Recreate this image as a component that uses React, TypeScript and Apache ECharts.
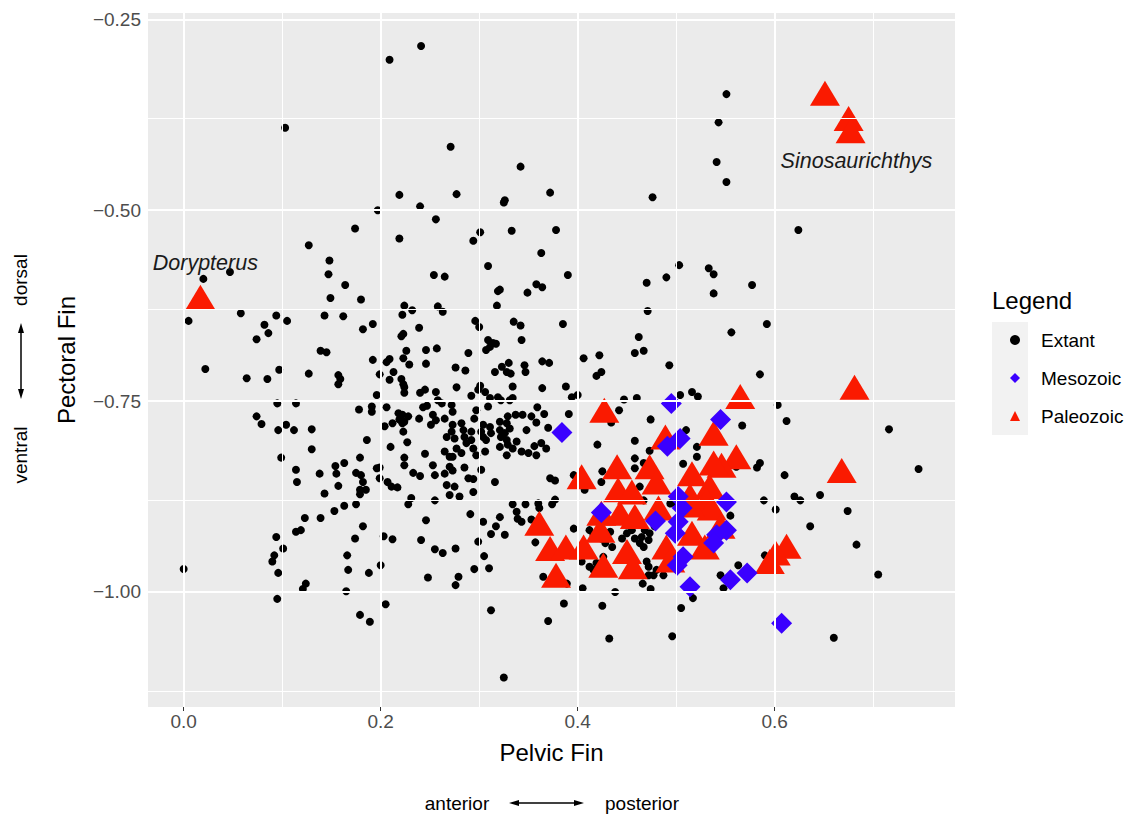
import React, { useEffect, useRef } from "react";
import * as echarts from "echarts";

// Extant species: [pelvic fin, pectoral fin]
const extantPoints: number[][] = [
  [0.103,-0.392],[0.127,-0.546],[0.047,-0.581],[0.020,-0.590],
  [0.241,-0.285],[0.209,-0.303],[0.271,-0.417],[0.342,-0.443],[0.219,-0.480],[0.277,-0.479],[0.326,-0.487],[0.325,-0.490],[0.372,-0.477],[0.197,-0.500],[0.240,-0.495],[0.256,-0.512],[0.174,-0.524],[0.219,-0.537],[0.301,-0.529],[0.294,-0.540],[0.333,-0.527],[0.378,-0.526],[0.363,-0.556],[0.148,-0.566],[0.147,-0.584],[0.164,-0.598],[0.309,-0.573],[0.254,-0.585],[0.265,-0.587],[0.319,-0.606],[0.321,-0.604],[0.349,-0.608],[0.358,-0.597],[0.364,-0.601],[0.390,-0.585],[0.149,-0.615],[0.180,-0.617],
  [0.551,-0.348],[0.543,-0.385],[0.541,-0.437],[0.551,-0.463],[0.476,-0.483],[0.624,-0.526],[0.470,-0.595],[0.490,-0.588],[0.503,-0.572],[0.533,-0.576],[0.538,-0.584],[0.538,-0.609],[0.577,-0.598],
  [0.005,-0.645],[0.058,-0.635],[0.094,-0.638],[0.105,-0.645],[0.082,-0.650],[0.086,-0.661],[0.074,-0.669],[0.022,-0.708],[0.064,-0.720],[0.085,-0.721],[0.097,-0.709],[0.095,-0.753],[0.114,-0.753],[0.074,-0.770],[0.079,-0.780],[0.096,-0.788],[0.104,-0.781],[0.112,-0.788],[0.099,-0.824],[0.114,-0.840],[0.115,-0.856],
  [0.094,-0.928],[0.114,-0.921],[0.101,-0.943],[0.092,-0.952],[0.090,-0.960],[0.096,-0.975],[0.000,-0.970],[0.095,-1.009],
  [0.143,-0.638],[0.162,-0.639],[0.182,-0.656],[0.192,-0.649],[0.224,-0.625],[0.222,-0.637],[0.232,-0.631],[0.239,-0.654],[0.221,-0.665],[0.223,-0.662],[0.139,-0.684],[0.145,-0.686],[0.192,-0.696],[0.226,-0.684],[0.246,-0.683],[0.206,-0.699],[0.209,-0.695],[0.223,-0.694],[0.229,-0.702],[0.213,-0.712],[0.199,-0.715],[0.127,-0.714],[0.157,-0.716],[0.159,-0.721],[0.157,-0.728],[0.209,-0.722],[0.221,-0.721],[0.223,-0.728],[0.224,-0.732],[0.224,-0.739],[0.240,-0.739],[0.245,-0.735],[0.246,-0.701],[0.196,-0.742],[0.178,-0.761],[0.191,-0.757],[0.191,-0.764],[0.206,-0.758],[0.218,-0.766],[0.222,-0.768],[0.219,-0.774],[0.224,-0.777],[0.228,-0.770],[0.222,-0.779],[0.212,-0.779],[0.204,-0.783],[0.239,-0.773],[0.243,-0.758],[0.247,-0.756],[0.130,-0.787],[0.223,-0.790],[0.186,-0.801],[0.210,-0.810],[0.227,-0.804],[0.130,-0.813],[0.179,-0.824],[0.224,-0.824],[0.245,-0.819],
  [0.258,-0.626],[0.263,-0.633],[0.318,-0.625],[0.296,-0.645],[0.300,-0.653],[0.335,-0.646],[0.342,-0.651],[0.385,-0.649],[0.309,-0.670],[0.314,-0.674],[0.307,-0.683],[0.317,-0.675],[0.311,-0.679],[0.343,-0.670],[0.257,-0.681],[0.289,-0.687],[0.276,-0.706],[0.286,-0.710],[0.323,-0.705],[0.330,-0.700],[0.332,-0.714],[0.328,-0.712],[0.316,-0.712],[0.346,-0.703],[0.347,-0.712],[0.364,-0.698],[0.371,-0.700],[0.277,-0.732],[0.301,-0.730],[0.299,-0.735],[0.306,-0.738],[0.334,-0.731],[0.364,-0.733],[0.388,-0.731],[0.256,-0.738],[0.258,-0.749],[0.262,-0.753],[0.292,-0.743],[0.311,-0.746],[0.309,-0.757],[0.319,-0.745],[0.322,-0.749],[0.331,-0.749],[0.334,-0.746],[0.253,-0.768],[0.251,-0.781],[0.256,-0.775],[0.272,-0.755],[0.273,-0.764],[0.297,-0.762],[0.295,-0.773],[0.265,-0.773],[0.359,-0.758],[0.366,-0.767],[0.358,-0.778],[0.370,-0.785],[0.337,-0.768],[0.344,-0.768],[0.353,-0.770],[0.329,-0.770],[0.321,-0.777],[0.328,-0.779],[0.331,-0.786],[0.273,-0.781],[0.272,-0.790],[0.275,-0.799],[0.282,-0.779],[0.284,-0.788],[0.285,-0.797],[0.292,-0.790],[0.292,-0.801],[0.287,-0.805],[0.304,-0.781],[0.311,-0.784],[0.302,-0.790],[0.312,-0.792],[0.304,-0.797],[0.307,-0.801],[0.321,-0.788],[0.326,-0.792],[0.322,-0.797],[0.328,-0.801],[0.348,-0.788],[0.267,-0.797],[0.265,-0.816],[0.277,-0.812],[0.282,-0.818],[0.294,-0.812],[0.297,-0.821],[0.306,-0.816],[0.321,-0.810],[0.329,-0.807],[0.338,-0.803],[0.334,-0.812],[0.328,-0.821],[0.343,-0.816],[0.356,-0.809],[0.363,-0.805],[0.368,-0.812],[0.358,-0.821],[0.350,-0.818],[0.273,-0.823],[0.270,-0.823],
  [0.138,-0.845],[0.154,-0.835],[0.155,-0.845],[0.163,-0.831],[0.175,-0.844],[0.180,-0.847],[0.182,-0.856],[0.196,-0.838],[0.199,-0.837],[0.199,-0.851],[0.224,-0.834],[0.233,-0.844],[0.240,-0.848],[0.207,-0.856],[0.211,-0.862],[0.217,-0.863],[0.157,-0.861],[0.143,-0.871],[0.179,-0.866],[0.185,-0.866],[0.179,-0.872],[0.175,-0.885],[0.163,-0.887],[0.153,-0.894],[0.231,-0.877],[0.228,-0.885],[0.123,-0.903],[0.139,-0.903],[0.246,-0.906],[0.119,-0.919],[0.182,-0.914],[0.174,-0.930],[0.203,-0.927],[0.212,-0.931],[0.241,-0.932],[0.166,-0.952],[0.167,-0.971],[0.188,-0.975],[0.200,-0.965],[0.248,-0.981],[0.124,-0.989],[0.121,-0.996],[0.165,-0.999],[0.205,-1.016],[0.179,-1.030],[0.189,-1.039],
  [0.253,-0.834],[0.255,-0.847],[0.265,-0.845],[0.270,-0.836],[0.273,-0.841],[0.285,-0.837],[0.289,-0.851],[0.294,-0.852],[0.302,-0.840],[0.267,-0.860],[0.275,-0.862],[0.270,-0.873],[0.280,-0.875],[0.294,-0.869],[0.316,-0.856],[0.255,-0.880],[0.372,-0.851],[0.377,-0.854],[0.334,-0.885],[0.338,-0.895],[0.339,-0.904],[0.343,-0.908],[0.347,-0.885],[0.360,-0.884],[0.361,-0.890],[0.374,-0.885],[0.377,-0.879],[0.353,-0.905],[0.291,-0.898],[0.304,-0.908],[0.321,-0.902],[0.317,-0.914],[0.312,-0.924],[0.326,-0.925],[0.299,-0.934],[0.357,-0.935],[0.255,-0.944],[0.263,-0.949],[0.276,-0.943],[0.305,-0.953],[0.295,-0.970],[0.310,-0.969],[0.279,-0.980],[0.276,-0.991],[0.365,-0.980],[0.312,-1.024],[0.386,-1.015],[0.370,-1.038],[0.325,-1.112],
  [0.471,-0.632],[0.462,-0.666],[0.458,-0.687],[0.467,-0.684],[0.406,-0.694],[0.422,-0.690],[0.493,-0.703],[0.419,-0.717],[0.424,-0.712],[0.394,-0.745],[0.400,-0.742],[0.447,-0.748],[0.460,-0.746],[0.504,-0.742],[0.516,-0.738],[0.522,-0.744],[0.442,-0.762],[0.391,-0.767],[0.474,-0.774],[0.434,-0.778],[0.510,-0.788],[0.420,-0.807],[0.458,-0.802],[0.473,-0.815],[0.458,-0.825],[0.458,-0.838],[0.467,-0.831],[0.507,-0.832],[0.425,-0.842],[0.424,-0.856],[0.396,-0.847],[0.407,-0.866],[0.521,-0.810],[0.521,-0.823],[0.494,-0.884],[0.463,-0.862],[0.467,-0.880],[0.396,-0.917],[0.412,-0.919],[0.416,-0.925],[0.424,-0.930],[0.433,-0.921],[0.435,-0.941],[0.428,-0.936],[0.445,-0.930],[0.450,-0.923],[0.455,-0.919],[0.458,-0.930],[0.465,-0.928],[0.463,-0.936],[0.468,-0.919],[0.472,-0.932],[0.473,-0.923],[0.467,-0.941],[0.478,-0.914],[0.470,-0.960],[0.472,-0.967],[0.426,-0.954],[0.419,-0.962],[0.412,-0.967],[0.416,-0.971],[0.404,-0.960],[0.472,-0.978],[0.477,-0.978],[0.487,-0.978],[0.480,-0.971],[0.466,-0.989],[0.474,-0.996],[0.438,-1.000],[0.405,-0.995],[0.389,-0.989],[0.425,-1.018],[0.505,-1.021],[0.517,-1.008],[0.432,-1.061],[0.496,-1.058],[0.500,-0.884],
  [0.556,-0.660],[0.592,-0.649],[0.585,-0.715],[0.603,-0.755],[0.612,-0.776],[0.567,-0.782],[0.716,-0.787],[0.585,-0.831],[0.582,-0.837],[0.561,-0.836],[0.610,-0.847],[0.746,-0.839],[0.589,-0.880],[0.601,-0.892],[0.620,-0.875],[0.626,-0.880],[0.646,-0.873],[0.674,-0.894],[0.555,-0.900],[0.636,-0.914],[0.683,-0.938],[0.590,-0.952],[0.563,-0.965],[0.545,-0.978],[0.548,-0.995],[0.705,-0.977],[0.660,-1.060],
];

// Mesozoic fossils
const mesozoicPoints: number[][] = [
  [0.384,-0.791],[0.495,-0.753],[0.545,-0.774],[0.504,-0.799],[0.491,-0.809],[0.424,-0.896],[0.479,-0.907],[0.502,-0.875],[0.506,-0.890],[0.502,-0.908],[0.499,-0.923],[0.507,-0.954],[0.501,-0.965],[0.514,-0.993],[0.551,-0.882],[0.551,-0.919],[0.541,-0.925],[0.538,-0.936],[0.572,-0.975],[0.555,-0.984],[0.607,-1.041],
];

// Paleozoic fossils
const paleozoicPoints: number[][] = [
  [0.651,-0.347],[0.675,-0.380],[0.677,-0.396],[0.017,-0.614],[0.681,-0.732],[0.565,-0.744],[0.427,-0.762],[0.538,-0.792],[0.489,-0.797],[0.668,-0.841],[0.404,-0.849],[0.440,-0.836],[0.473,-0.836],[0.480,-0.856],[0.441,-0.866],[0.455,-0.869],[0.561,-0.823],[0.546,-0.834],[0.538,-0.831],[0.516,-0.845],[0.534,-0.862],[0.531,-0.880],[0.536,-0.890],[0.361,-0.910],[0.424,-0.897],[0.443,-0.897],[0.458,-0.901],[0.482,-0.890],[0.514,-0.886],[0.514,-0.874],[0.423,-0.919],[0.372,-0.943],[0.388,-0.941],[0.406,-0.941],[0.378,-0.978],[0.450,-0.947],[0.426,-0.965],[0.456,-0.967],[0.490,-0.941],[0.494,-0.958],[0.516,-0.923],[0.545,-0.914],[0.529,-0.941],[0.612,-0.940],[0.601,-0.949],[0.595,-0.960],
];

// Named taxa written beside their points
const taxonLabels: { name: string; value: number[] }[] = [
  { name: "Dorypterus", value: [0.022, -0.569] },
  { name: "Sinosaurichthys", value: [0.683, -0.436] },
];

const xTicks = [0, 0.2, 0.4, 0.6];
const xMinor = [0.1, 0.3, 0.5, 0.7];
const yTicks = [-1.0, -0.75, -0.5, -0.25];
const yMinor = [-1.125, -0.875, -0.625, -0.375];
const legendNames = ["Extant", "Mesozoic", "Paleozoic"];

const FONT = "'Liberation Sans', Arial, Helvetica, sans-serif";
const BLUE = "#3A00FF";
const RED = "#FA1A00";

export default function App() {
  const ref = useRef<HTMLDivElement>(null);

  useEffect(() => {
    if (!ref.current) return;
    const chart = echarts.init(ref.current, undefined, { renderer: "svg" });

    const gridLines = [
      ...xTicks.map((v) => ({ xAxis: v, lineStyle: { width: 2 } })),
      ...xMinor.map((v) => ({ xAxis: v, lineStyle: { width: 1 } })),
      ...yTicks.map((v) => ({ yAxis: v, lineStyle: { width: 2 } })),
      ...yMinor.map((v) => ({ yAxis: v, lineStyle: { width: 1 } })),
    ];

    const arrowHead = (pts: number[][]) => ({
      type: "polygon",
      shape: { points: pts },
      style: { fill: "#000" },
    });

    const noteStyle = (text: string) => ({
      text,
      fontSize: 19,
      fill: "#000",
      fontFamily: FONT,
      align: "center",
      verticalAlign: "middle",
    });

    chart.setOption({
      animation: false,
      textStyle: { fontFamily: FONT },
      grid: {
        left: 148,
        top: 13,
        width: 807,
        height: 694,
        show: true,
        backgroundColor: "#EBEBEB",
        borderWidth: 0,
      },
      xAxis: {
        type: "value",
        min: -0.0362,
        max: 0.783,
        axisLine: { show: false },
        splitLine: { show: false },
        axisTick: { customValues: xTicks, length: 4, lineStyle: { color: "#333333" } },
        axisLabel: {
          customValues: xTicks,
          formatter: (v: number) => v.toFixed(1),
          color: "#4D4D4D",
          fontSize: 19,
          margin: 5,
          fontFamily: FONT,
        },
        name: "Pelvic Fin",
        nameLocation: "middle",
        nameGap: 33,
        nameTextStyle: { fontSize: 24, color: "#000", fontFamily: FONT },
      },
      yAxis: {
        type: "value",
        min: -1.1506,
        max: -0.2418,
        axisLine: { show: false },
        splitLine: { show: false },
        axisTick: { customValues: yTicks, length: 4, lineStyle: { color: "#333333" } },
        axisLabel: {
          customValues: yTicks,
          formatter: (v: number) => v.toFixed(2).replace("-", "\u2212"),
          color: "#4D4D4D",
          fontSize: 19,
          margin: 7,
          fontFamily: FONT,
        },
        name: "Pectoral Fin",
        nameLocation: "middle",
        nameGap: 70,
        nameRotate: 90,
        nameTextStyle: { fontSize: 24, color: "#000", fontFamily: FONT },
      },
      legend: {
        data: [
          { name: "Extant", icon: "circle" },
          { name: "Mesozoic", icon: "diamond" },
          { name: "Paleozoic", icon: "triangle" },
        ],
        orient: "vertical",
        left: 1005,
        top: 325,
        itemWidth: 10,
        itemHeight: 10,
        itemGap: 18,
        selectedMode: false,
        textStyle: { fontSize: 19, lineHeight: 20, color: "#000", fontFamily: FONT, padding: [0, 0, 0, 16] },
      },
      series: [
        {
          name: "panel-grid",
          type: "scatter",
          data: [],
          z: 1,
          silent: true,
          markLine: {
            silent: true,
            symbol: ["none", "none"],
            label: { show: false },
            emphasis: { disabled: true },
            lineStyle: { color: "#FFFFFF", type: "solid" },
            data: gridLines,
          },
        },
        {
          name: legendNames[0],
          type: "scatter",
          data: extantPoints,
          symbol: "circle",
          symbolSize: 8,
          itemStyle: { color: "#000000", opacity: 1 },
          z: 2,
        },
        {
          name: legendNames[2],
          type: "scatter",
          data: paleozoicPoints,
          symbol: "triangle",
          symbolSize: [30, 25],
          itemStyle: { color: RED, opacity: 1 },
          z: 3,
        },
        {
          name: legendNames[1],
          type: "scatter",
          data: mesozoicPoints,
          symbol: "diamond",
          symbolSize: 21,
          itemStyle: { color: BLUE, opacity: 1 },
          z: 4,
        },
        {
          name: "taxa",
          type: "scatter",
          data: taxonLabels,
          symbolSize: 1,
          itemStyle: { color: "#EBEBEB", opacity: 1 },
          silent: true,
          z: 5,
          label: {
            show: true,
            position: "inside",
            formatter: (p: any) => p.name,
            fontStyle: "italic",
            fontSize: 21.5,
            color: "#1A1A1A",
            opacity: 1,
            textBorderWidth: 0,
            fontFamily: FONT,
          },
        },
      ],
      graphic: [
        // key background of the legend
        { type: "rect", shape: { x: 992, y: 322, width: 36, height: 113 }, style: { fill: "#F2F2F2" }, z: -1 },
        { type: "text", x: 992, y: 288, style: { text: "Legend", fontSize: 24, fill: "#000", fontFamily: FONT } },
        // vertical orientation note
        { type: "text", x: 20, y: 280, rotation: Math.PI / 2, style: noteStyle("dorsal") },
        { type: "line", shape: { x1: 21, y1: 330, x2: 21, y2: 393 }, style: { stroke: "#000", lineWidth: 1.5 } },
        arrowHead([[21, 323], [18, 333], [24, 333]]),
        arrowHead([[21, 399], [18, 389], [24, 389]]),
        { type: "text", x: 20, y: 455, rotation: Math.PI / 2, style: noteStyle("ventral") },
        // horizontal orientation note
        { type: "text", x: 457, y: 803, style: noteStyle("anterior") },
        { type: "line", shape: { x1: 516, y1: 803, x2: 577, y2: 803 }, style: { stroke: "#000", lineWidth: 1.5 } },
        arrowHead([[509, 803], [519, 800], [519, 806]]),
        arrowHead([[584, 803], [574, 800], [574, 806]]),
        { type: "text", x: 642, y: 803, style: noteStyle("posterior") },
      ],
    });

    return () => chart.dispose();
  }, []);

  return (
    <div
      ref={ref}
      style={{ position: "fixed", left: 0, top: 0, width: 1131, height: 814, background: "#FFFFFF" }}
    />
  );
}
